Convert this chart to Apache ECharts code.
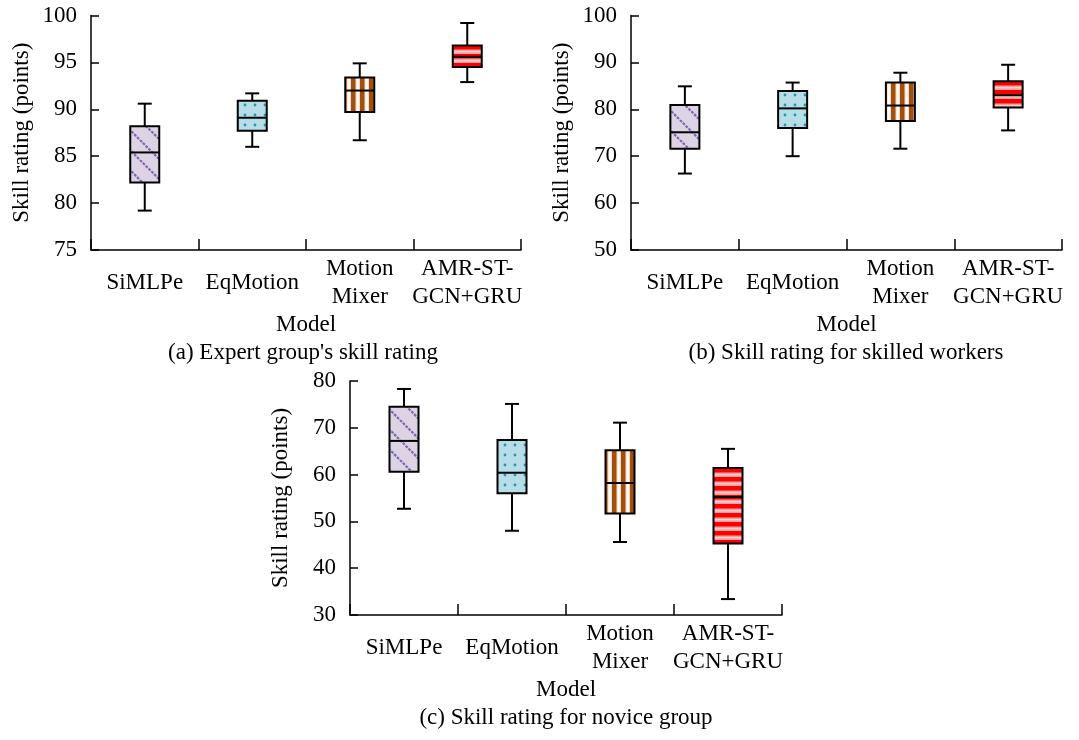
<!DOCTYPE html>
<html>
<head>
<meta charset="utf-8">
<script src="https://cdn.jsdelivr.net/npm/echarts@6/dist/echarts.min.js"></script>
<style>
html,body{margin:0;padding:0;background:#fff;}
#chart{width:1079px;height:740px;}
</style>
</head>
<body>
<div id="chart"></div>
<script>
// ---------- data ----------
const categories = ['SiMLPe', 'EqMotion', 'Motion\nMixer', 'AMR-ST-\nGCN+GRU'];
// each row: [min, Q1, median, Q3, max]
const expertBox = [
  [79.2, 82.2, 85.4, 88.2, 90.6],
  [86.0, 87.7, 89.1, 90.9, 91.7],
  [86.7, 89.7, 92.0, 93.4, 94.9],
  [92.9, 94.5, 95.6, 96.8, 99.2]
];
const skilledBox = [
  [66.3, 71.6, 75.1, 80.9, 84.9],
  [70.0, 76.0, 80.2, 83.9, 85.7],
  [71.6, 77.5, 80.8, 85.7, 87.8],
  [75.5, 80.4, 83.0, 86.0, 89.5]
];
const noviceBox = [
  [52.7, 60.6, 67.2, 74.5, 78.3],
  [48.0, 56.0, 60.4, 67.4, 75.1],
  [45.6, 51.7, 58.2, 65.2, 71.1],
  [33.4, 45.3, 55.2, 61.4, 65.5]
];
const expertTicks = {min: 75, max: 100, interval: 5};
const skilledTicks = {min: 50, max: 100, interval: 10};
const noviceTicks = {min: 30, max: 80, interval: 10};
const yName = 'Skill rating (points)';
const xName = 'Model';
const captions = ["(a) Expert group's skill rating", '(b) Skill rating for skilled workers', '(c) Skill rating for novice group'];

// ---------- patterns ----------
function mk(w, h, draw) {
  const c = document.createElement('canvas');
  c.width = w; c.height = h;
  draw(c.getContext('2d'), w, h);
  return c;
}
const patDiag = mk(20, 20, (g, w, h) => {
  g.fillStyle = '#dcd4e5'; g.fillRect(0, 0, w, h);
  g.strokeStyle = '#8466ad'; g.lineWidth = 2.2; g.setLineDash([2.8, 1.2]);
  for (const off of [-w, 0, w]) {
    g.beginPath(); g.moveTo(off, 0); g.lineTo(off + w, h); g.stroke();
  }
});
const patDots = mk(10, 10, (g, w, h) => {
  g.fillStyle = '#b6dee8'; g.fillRect(0, 0, w, h);
  g.fillStyle = '#2f92a8';
  g.beginPath(); g.arc(5, 5, 1.4, 0, Math.PI * 2); g.fill();
});
const patVert = mk(9, 4, (g, w, h) => {
  g.fillStyle = '#f8d8c0'; g.fillRect(0, 0, w, h);
  g.fillStyle = '#fff6ee'; g.fillRect(5.5, 0, 2.5, h);
  g.fillStyle = '#ffffff'; g.fillRect(6.2, 0, 1.2, h);
  g.fillStyle = '#a0500c'; g.fillRect(0, 0, 4.5, h);
});
const patHorz = mk(4, 9, (g, w, h) => {
  g.fillStyle = '#eba3a3'; g.fillRect(0, 0, w, h);
  g.fillStyle = '#f6cccc'; g.fillRect(0, 6, w, 1.5);
  g.fillStyle = '#ff0000'; g.fillRect(0, 0, w, 4.5);
});
const patterns = [patDiag, patDots, patVert, patHorz].map(c => ({image: c, repeat: 'repeat'}));

// ---------- chart ----------
const FONT = "'Liberation Serif', 'Times New Roman', serif";
const FS = 23;
const grids = [
  {left: 91, top: 15.5, width: 430, height: 234.5},
  {left: 631, top: 15.5, width: 431, height: 234.5},
  {left: 350, top: 381, width: 432, height: 234}
];
const tickSets = [expertTicks, skilledTicks, noviceTicks];
const boxSets = [expertBox, skilledBox, noviceBox];

function renderItem(params, api) {
  const x = api.value(0);
  const lo = api.coord([x, api.value(1)]);
  const q1 = api.coord([x, api.value(2)]);
  const md = api.coord([x, api.value(3)]);
  const q3 = api.coord([x, api.value(4)]);
  const hi = api.coord([x, api.value(5)]);
  const cx = md[0];
  const bw = 29, cw = 14;
  const ls = {stroke: '#000', lineWidth: 2};
  return {
    type: 'group',
    children: [
      {type: 'line', shape: {x1: cx, y1: hi[1], x2: cx, y2: q3[1]}, style: ls},
      {type: 'line', shape: {x1: cx - cw / 2, y1: hi[1], x2: cx + cw / 2, y2: hi[1]}, style: ls},
      {type: 'line', shape: {x1: cx, y1: q1[1], x2: cx, y2: lo[1]}, style: ls},
      {type: 'line', shape: {x1: cx - cw / 2, y1: lo[1], x2: cx + cw / 2, y2: lo[1]}, style: ls},
      {type: 'rect', shape: {x: cx - bw / 2, y: q3[1], width: bw, height: q1[1] - q3[1]},
        style: {fill: patterns[params.dataIndex], stroke: '#000', lineWidth: 2}},
      {type: 'line', shape: {x1: cx - bw / 2, y1: md[1], x2: cx + bw / 2, y2: md[1]}, style: ls}
    ]
  };
}

const option = {
  animation: false,
  backgroundColor: '#fff',
  grid: grids,
  xAxis: grids.map((g, i) => ({
    type: 'category', gridIndex: i, data: categories,
    name: xName, nameLocation: 'middle', nameGap: 63,
    nameTextStyle: {fontFamily: FONT, fontSize: FS, color: '#000'},
    axisLine: {lineStyle: {color: '#000', width: 1.5}},
    axisTick: {show: true, inside: true, length: 11, interval: 0, lineStyle: {color: '#000', width: 1.5}},
    axisLabel: {interval: 0, fontFamily: FONT, fontSize: FS, color: '#000', verticalAlign: 'middle', margin: 33, lineHeight: 28},
    splitLine: {show: false}
  })),
  yAxis: grids.map((g, i) => ({
    type: 'value', gridIndex: i,
    min: tickSets[i].min, max: tickSets[i].max, interval: tickSets[i].interval,
    name: yName, nameLocation: 'middle', nameGap: 58,
    nameTextStyle: {fontFamily: FONT, fontSize: FS, color: '#000'},
    axisLine: {show: true, lineStyle: {color: '#000', width: 1.5}},
    axisTick: {show: true, inside: true, length: 8, lineStyle: {color: '#000', width: 1.5}},
    axisLabel: {fontFamily: FONT, fontSize: FS, color: '#000', margin: 14},
    splitLine: {show: false}
  })),
  series: boxSets.map((set, i) => ({
    type: 'custom', xAxisIndex: i, yAxisIndex: i,
    renderItem: renderItem,
    encode: {x: 0, y: [1, 2, 3, 4, 5]},
    data: set.map((r, k) => [k].concat(r))
  })),
  graphic: [
    {type: 'text', x: 303, y: 353, style: {text: captions[0], font: FS + 'px ' + FONT, fill: '#000', align: 'center', verticalAlign: 'middle'}},
    {type: 'text', x: 846, y: 353, style: {text: captions[1], font: FS + 'px ' + FONT, fill: '#000', align: 'center', verticalAlign: 'middle'}},
    {type: 'text', x: 566, y: 718, style: {text: captions[2], font: FS + 'px ' + FONT, fill: '#000', align: 'center', verticalAlign: 'middle'}}
  ]
};
const chart = echarts.init(document.getElementById('chart'), null, {renderer: 'canvas'});
chart.setOption(option);
</script>
</body>
</html>
